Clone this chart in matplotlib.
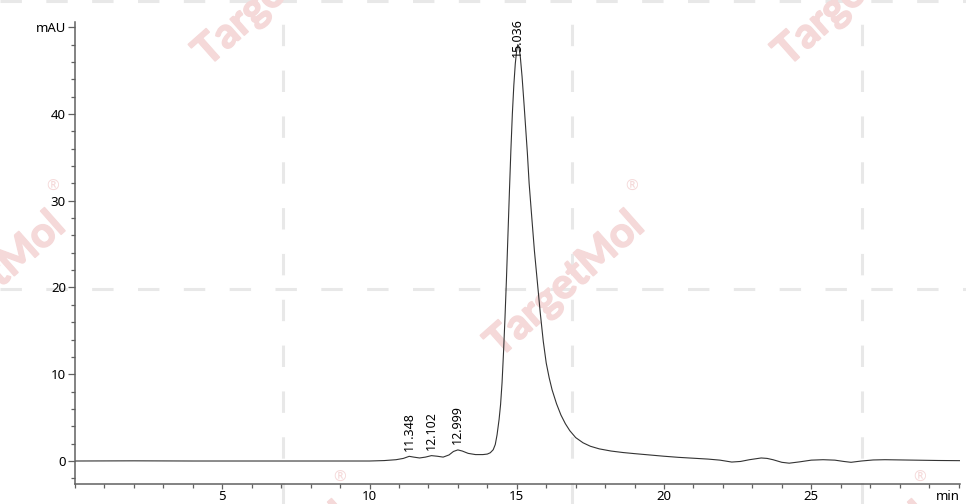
# HPLC chromatogram with TargetMol watermark
import matplotlib.pyplot as plt
import matplotlib.patheffects as pe
from matplotlib.lines import Line2D
from matplotlib.ticker import MultipleLocator

plt.rcParams["font.family"] = ["Noto Sans", "DejaVu Sans"]

# Trace (time [min], signal [mAU])
time_min = [0.0, 2.0, 4.0, 6.0, 8.0, 10.0, 10.5, 10.9, 11.15, 11.348, 11.5, 11.7,
            11.9, 12.102, 12.3, 12.5, 12.7, 12.85, 12.999, 13.15, 13.35, 13.6,
            13.85, 14.0, 14.1, 14.2, 14.27, 14.33, 14.4, 14.45, 14.5, 14.55,
            14.6, 14.65, 14.7, 14.75, 14.8, 14.85, 14.9, 14.95, 15.0, 15.036,
            15.07, 15.12, 15.18, 15.25, 15.3, 15.36, 15.42, 15.5, 15.6, 15.7,
            15.8, 15.9, 16.0, 16.1, 16.2, 16.35, 16.5, 16.65, 16.8, 17.0,
            17.25, 17.5, 17.8, 18.2, 18.6, 19.0, 19.5, 20.0, 20.5, 21.0, 21.5,
            21.9, 22.3, 22.6, 22.9, 23.3, 23.5, 23.7, 24.0, 24.25, 24.6, 25.0,
            25.4, 25.8, 26.1, 26.35, 26.7, 27.1, 27.5, 28.5, 29.3, 30.05]
signal_mau = [0.0, 0.02, 0.0, 0.0, 0.0, 0.0, 0.05, 0.15, 0.3, 0.54, 0.45, 0.35,
              0.45, 0.62, 0.55, 0.45, 0.7, 1.1, 1.28, 1.15, 0.88, 0.74,
              0.74, 0.8, 0.95, 1.3, 1.9, 3.0, 4.8, 6.5, 9.0, 12.5,
              16.5, 21.0, 26.0, 31.0, 35.8, 40.0, 43.3, 45.8, 47.4, 48.0,
              47.8, 46.6, 44.3, 41.0, 38.5, 35.5, 32.0, 28.5, 24.2, 20.6,
              17.0, 13.8, 11.3, 9.6, 8.2, 6.6, 5.3, 4.3, 3.5, 2.7,
              2.1, 1.7, 1.4, 1.15, 0.98, 0.85, 0.7, 0.55, 0.42, 0.32, 0.22,
              0.1, -0.12, -0.05, 0.15, 0.35, 0.3, 0.15, -0.15, -0.25, -0.1, 0.1,
              0.15, 0.1, -0.05, -0.15, 0.0, 0.12, 0.15, 0.1, 0.06, 0.04]

# Integrated peaks: retention time, apex height, label
peak_times = [11.348, 12.102, 12.999]
peak_heights = [0.54, 0.62, 1.28]
peak_labels = ["11.348", "12.102", "12.999"]
main_peak_time = 15.036
main_peak_label = "15.036"

fig = plt.figure(figsize=(9.66, 5.04), dpi=100)
W, H = 966, 504

# Watermark: dashed light grid and rotated TargetMol text (figure pixels)
grid_kw = dict(color="#e8e8e8", lw=2.2, dashes=(7, 8), zorder=-2,
               transform=fig.transFigure)
for xp in [283, 572, 862]:
    fig.add_artist(Line2D([xp / W, xp / W], [0, 1], **grid_kw))
for yp in [1, 289]:
    fig.add_artist(Line2D([0, 1], [1 - yp / H, 1 - yp / H], **grid_kw))

wm_color = "#f5d9d9"
wm_centers = [(565, 285), (-14, 285), (273, -6), (853, -6), (273, 576), (853, 576)]
for cx, cy in wm_centers:
    fig.text(cx / W, 1 - cy / H, "TargetMol", rotation=41.5, rotation_mode="anchor",
             ha="center", va="center", fontsize=30, fontweight="bold",
             family=["Lato", "DejaVu Sans"], color=wm_color, zorder=-1,
             path_effects=[pe.withStroke(linewidth=1.2, foreground=wm_color)])
    fig.text((cx + 67) / W, 1 - (cy - 98) / H, "®", ha="center", va="center",
             fontsize=11, color=wm_color, zorder=-1)

ax = fig.add_axes([75 / W, 20 / H, (960 - 75) / W, (484 - 22) / H])
ax.patch.set_alpha(0)

ax.plot(time_min, signal_mau, color="#333333", lw=0.8)

for t, h, lab in zip(peak_times, peak_heights, peak_labels):
    ax.annotate(lab, (t, h), xytext=(0, 4), textcoords="offset points",
                rotation=90, ha="center", va="bottom", fontsize=9)
ax.text(main_peak_time, 46.6, main_peak_label, rotation=90, ha="center",
        va="bottom", fontsize=9)

ax.set_xlim(0, 30.05)
ax.set_ylim(-2.65, 50.6)
ax.set_xticks([5, 10, 15, 20, 25])
ax.xaxis.set_minor_locator(MultipleLocator(1))
ax.set_yticks([0, 10, 20, 30, 40, 50])
ax.set_yticklabels(["0", "10", "20", "30", "40", "mAU"])
ax.yaxis.set_minor_locator(MultipleLocator(2))
ax.annotate("min", (30.05, 0), xycoords=("data", "axes fraction"),
            xytext=(0, -4.5), textcoords="offset points", ha="right",
            va="top", fontsize=9.5)

for side in ["top", "right"]:
    ax.spines[side].set_visible(False)
for side in ["left", "bottom"]:
    ax.spines[side].set_color("#606060")
    ax.spines[side].set_linewidth(1.1)
ax.tick_params(which="major", length=5, width=0.9, color="#606060",
               labelsize=9.5, pad=1.5)
ax.tick_params(axis="x", which="major", length=3.5, pad=1)
ax.tick_params(which="minor", length=3, width=0.9, color="#606060")

fig.savefig("out.png", dpi=100)
